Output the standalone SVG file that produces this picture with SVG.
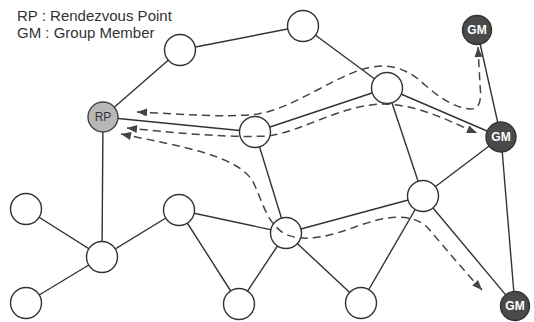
<svg xmlns="http://www.w3.org/2000/svg" width="534" height="322" viewBox="0 0 534 322">
<style>
.edge{stroke:#333;stroke-width:1.4;fill:none}
.flow{stroke:#444;stroke-width:1.5;fill:none;stroke-dasharray:8 5}
.node{fill:#fff;stroke:#333;stroke-width:1.4}
.rp{fill:#b8b8b8;stroke:#444;stroke-width:1.4}
.gm{fill:#4a4a4a;stroke:#333;stroke-width:1.4}
.lbl{font-family:"Liberation Sans",Arial,sans-serif;font-size:12px;text-anchor:middle}
.legend{font-family:"Liberation Sans",Arial,sans-serif;font-size:15px;fill:#333}
</style>
<defs>
<marker id="arr" viewBox="0 0 10 8" refX="10" refY="4" markerWidth="11" markerHeight="8" markerUnits="userSpaceOnUse" orient="auto-start-reverse">
<path d="M0,0 L10,4 L0,8 z" fill="#444"/>
</marker>
</defs>
<rect width="534" height="322" fill="#fff"/>
<g id="legend">
<text class="legend" x="17" y="21">RP : Rendezvous Point</text>
<text class="legend" x="17" y="38">GM : Group Member</text>
</g>
<g id="connectors">
<line class="edge" x1="180" y1="50" x2="303" y2="26"/>
<line class="edge" x1="180" y1="50" x2="103" y2="117"/>
<line class="edge" x1="103" y1="117" x2="255" y2="132"/>
<line class="edge" x1="103" y1="117" x2="102" y2="257"/>
<line class="edge" x1="255" y1="132" x2="387" y2="88"/>
<line class="edge" x1="255" y1="132" x2="286" y2="233"/>
<line class="edge" x1="303" y1="26" x2="387" y2="88"/>
<line class="edge" x1="387" y1="88" x2="501" y2="137"/>
<line class="edge" x1="387" y1="88" x2="423" y2="196"/>
<line class="edge" x1="477" y1="30" x2="501" y2="137"/>
<line class="edge" x1="501" y1="137" x2="423" y2="196"/>
<line class="edge" x1="501" y1="137" x2="515" y2="306"/>
<line class="edge" x1="423" y1="196" x2="286" y2="233"/>
<line class="edge" x1="423" y1="196" x2="361" y2="303"/>
<line class="edge" x1="423" y1="196" x2="515" y2="306"/>
<line class="edge" x1="286" y1="233" x2="361" y2="303"/>
<line class="edge" x1="286" y1="233" x2="179" y2="210"/>
<line class="edge" x1="286" y1="233" x2="239" y2="304"/>
<line class="edge" x1="179" y1="210" x2="239" y2="304"/>
<line class="edge" x1="179" y1="210" x2="102" y2="257"/>
<line class="edge" x1="26" y1="209" x2="102" y2="257"/>
<line class="edge" x1="26" y1="303" x2="102" y2="257"/>
</g>
<g id="nodes">
<g id="n-a"><circle class="node" cx="180" cy="50" r="15.5"/></g>
<g id="n-b"><circle class="node" cx="303" cy="26" r="15.5"/></g>
<g id="n-c"><circle class="node" cx="255" cy="132" r="15.5"/></g>
<g id="n-d"><circle class="node" cx="387" cy="88" r="15.5"/></g>
<g id="n-e"><circle class="node" cx="423" cy="196" r="15.5"/></g>
<g id="n-f"><circle class="node" cx="286" cy="233" r="15.5"/></g>
<g id="n-g"><circle class="node" cx="361" cy="303" r="15.5"/></g>
<g id="n-l1"><circle class="node" cx="26" cy="209" r="15.5"/></g>
<g id="n-l2"><circle class="node" cx="102" cy="257" r="15.5"/></g>
<g id="n-l3"><circle class="node" cx="26" cy="303" r="15.5"/></g>
<g id="n-l4"><circle class="node" cx="179" cy="210" r="15.5"/></g>
<g id="n-l5"><circle class="node" cx="239" cy="304" r="15.5"/></g>
<g id="n-rp"><circle class="rp" cx="103" cy="117" r="15"/><text class="lbl" x="103" y="121" fill="#333">RP</text></g>
<g id="n-gm1"><circle class="gm" cx="477" cy="30" r="14.5"/><text class="lbl" x="477" y="34" fill="#fff" font-weight="bold">GM</text></g>
<g id="n-gm2"><circle class="gm" cx="501" cy="137" r="15"/><text class="lbl" x="501" y="141" fill="#fff" font-weight="bold">GM</text></g>
<g id="n-gm3"><circle class="gm" cx="515" cy="306" r="14.5"/><text class="lbl" x="515" y="310" fill="#fff" font-weight="bold">GM</text></g>
</g>
<g id="flows">
<path class="flow" marker-start="url(#arr)" marker-end="url(#arr)" d="M137,112 C180,114 225,118 258,114 C290,109 330,80 360,70 C385,62 405,66 425,85 C440,98 455,108 470,109 C482,110 481,95 480,85 L478,47"/>
<path class="flow" marker-start="url(#arr)" marker-end="url(#arr)" d="M127,128 C170,132 220,138 268,136 C300,132 340,106 380,104 C420,104 450,122 477,133"/>
<path class="flow" marker-start="url(#arr)" marker-end="url(#arr)" d="M121,134 C180,146 235,155 252,180 C262,198 265,222 285,234 C305,243 330,236 355,227 C380,218 410,210 428,228 C445,248 465,272 482,290"/>
</g>
</svg>
